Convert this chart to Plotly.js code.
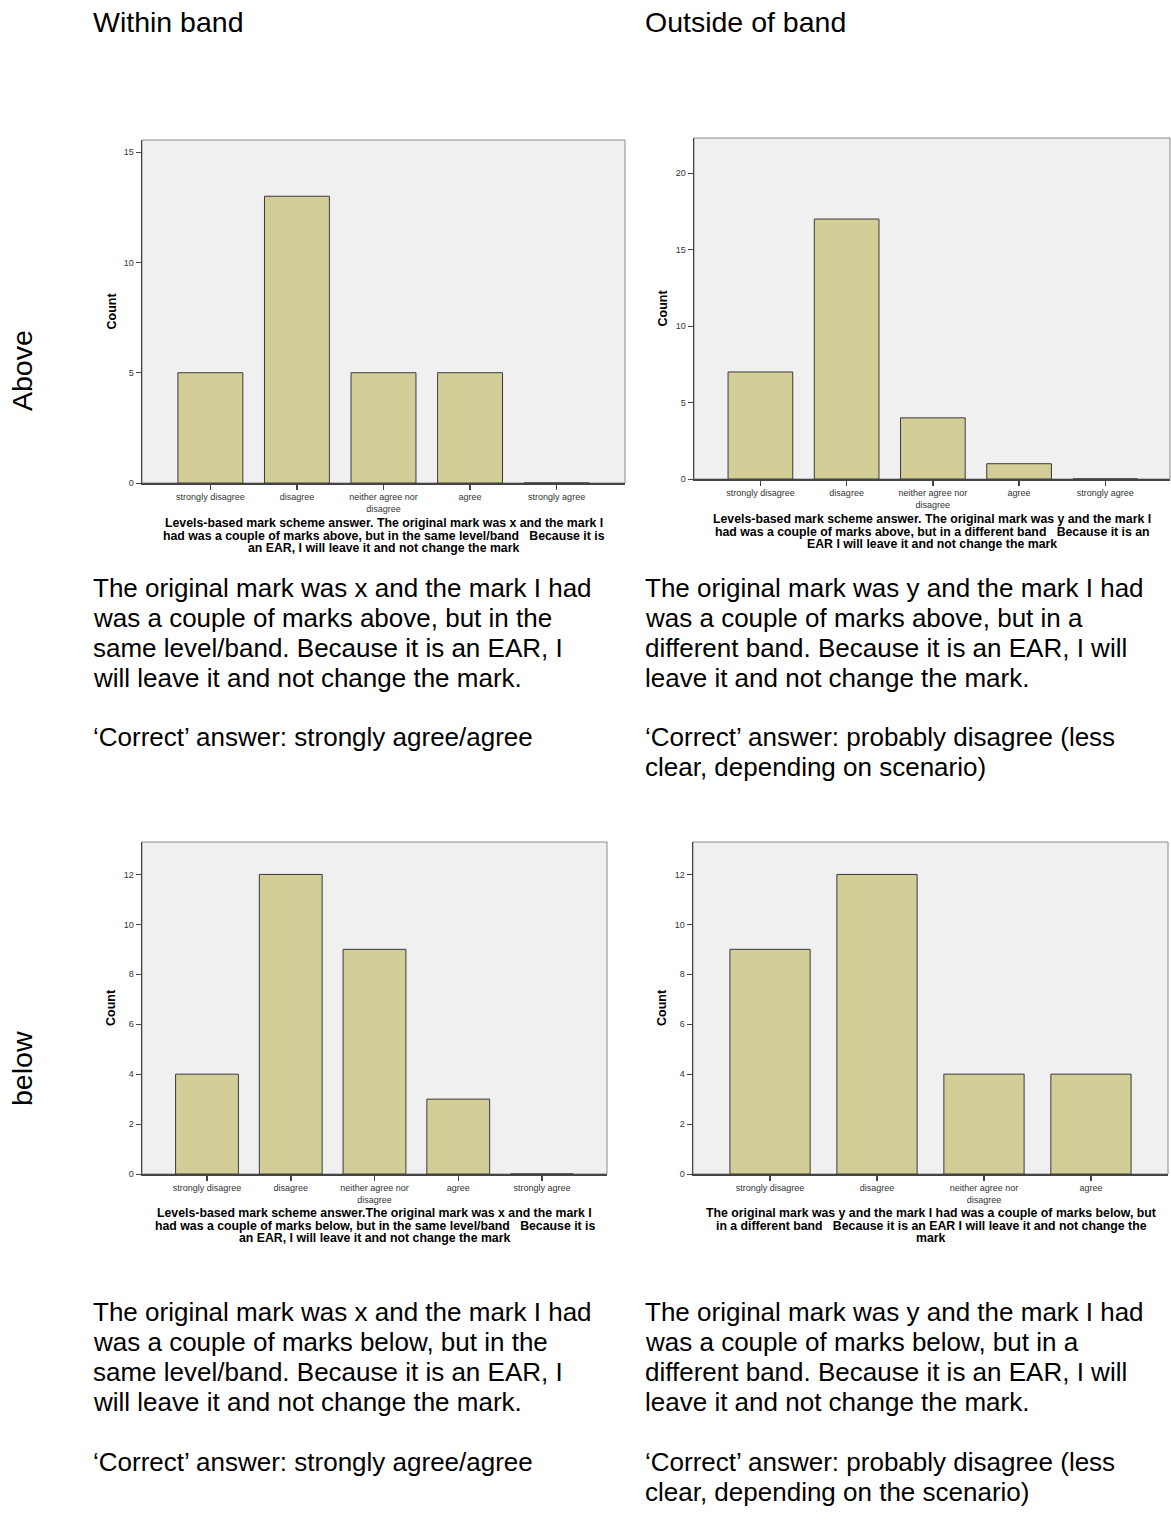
<!DOCTYPE html>
<html>
<head>
<meta charset="utf-8">
<script src="https://cdn.plot.ly/plotly-3.0.1.min.js"></script>
<style>
html,body{margin:0;padding:0;background:#fff;}
#chart{width:1171px;height:1531px;}
</style>
</head>
<body>
<div id="chart"></div>
<script>
// ---- data ----
const categories = ['strongly disagree', 'disagree', 'neither agree nor disagree', 'agree', 'strongly agree'];
const tickLabels = ['strongly disagree', 'disagree', 'neither agree nor<br>disagree', 'agree', 'strongly agree'];
const categoriesBelowOutside = ['strongly disagree', 'disagree', 'neither agree nor disagree', 'agree'];
const tickLabelsBelowOutside = ['strongly disagree', 'disagree', 'neither agree nor<br>disagree', 'agree'];

const aboveWithinCounts = [5, 13, 5, 5, 0];
const aboveOutsideCounts = [7, 17, 4, 1, 0];
const belowWithinCounts = [4, 12, 9, 3, 0];
const belowOutsideCounts = [9, 12, 4, 4];

const columnHeaders = ['Within band', 'Outside of band'];
const rowHeaders = ['Above', 'below'];

const axisTitleAboveWithin = ['Levels-based mark scheme answer. The original mark was x and the mark I', 'had was a couple of marks above, but in the same level/band   Because it is', 'an EAR, I will leave it and not change the mark'];
const axisTitleAboveOutside = ['Levels-based mark scheme answer. The original mark was y and the mark I', 'had was a couple of marks above, but in a different band   Because it is an', 'EAR I will leave it and not change the mark'];
const axisTitleBelowWithin = ['Levels-based mark scheme answer.The original mark was x and the mark I', 'had was a couple of marks below, but in the same level/band   Because it is', 'an EAR, I will leave it and not change the mark'];
const axisTitleBelowOutside = ['The original mark was y and the mark I had was a couple of marks below, but', 'in a different band   Because it is an EAR I will leave it and not change the', 'mark'];

const textAboveWithin = ['The original mark was x and the mark I had', 'was a couple of marks above, but in the', 'same level/band. Because it is an EAR, I', 'will leave it and not change the mark.'];
const correctAboveWithin = ['\u2018Correct\u2019 answer: strongly agree/agree'];
const textAboveOutside = ['The original mark was y and the mark I had', 'was a couple of marks above, but in a', 'different band. Because it is an EAR, I will', 'leave it and not change the mark.'];
const correctAboveOutside = ['\u2018Correct\u2019 answer: probably disagree (less', 'clear, depending on scenario)'];
const textBelowWithin = ['The original mark was x and the mark I had', 'was a couple of marks below, but in the', 'same level/band. Because it is an EAR, I', 'will leave it and not change the mark.'];
const correctBelowWithin = ['\u2018Correct\u2019 answer: strongly agree/agree'];
const textBelowOutside = ['The original mark was y and the mark I had', 'was a couple of marks below, but in a', 'different band. Because it is an EAR, I will', 'leave it and not change the mark.'];
const correctBelowOutside = ['\u2018Correct\u2019 answer: probably disagree (less', 'clear, depending on the scenario)'];

// ---- layout helpers ----
const W = 1171, H = 1531;
const px = v => v / W;
const py = v => 1 - v / H;
const FONT = 'Liberation Sans, Arial, Helvetica, sans-serif';
const BAR_FILL = '#d3ce97';
const BAR_LINE = '#3a3a3a';

function barTrace(cats, vals, xa, ya) {
  return {
    type: 'bar', x: cats, y: vals, xaxis: xa, yaxis: ya,
    width: 0.75,
    marker: {color: BAR_FILL, line: {color: BAR_LINE, width: 1}},
    hoverinfo: 'x+y', showlegend: false
  };
}

const data = [
  barTrace(categories, aboveWithinCounts, 'x', 'y'),
  barTrace(categories, aboveOutsideCounts, 'x2', 'y2'),
  barTrace(categories, belowWithinCounts, 'x3', 'y3'),
  barTrace(categoriesBelowOutside, belowOutsideCounts, 'x4', 'y4')
];

function xAxis(domain, anchor, cats, labels, range) {
  return {
    domain: domain, anchor: anchor, type: 'category',
    categoryorder: 'array', categoryarray: cats,
    tickvals: cats, ticktext: labels,
    range: range, fixedrange: true,
    showline: true, linecolor: '#444', linewidth: 1.5,
    ticks: 'outside', ticklen: 5, tickcolor: '#444', tickwidth: 1.5,
    tickfont: {family: FONT, size: 9, color: '#333'},
    showgrid: false, zeroline: false
  };
}
function yAxis(domain, anchor, range, dtick) {
  return {
    domain: domain, anchor: anchor, range: range, dtick: dtick, fixedrange: true,
    showline: true, linecolor: '#444', linewidth: 1.5,
    ticks: 'outside', ticklen: 5, tickcolor: '#444', tickwidth: 1,
    tickfont: {family: FONT, size: 9, color: '#333'},
    showgrid: false, zeroline: false
  };
}

// plot boxes in pixels: [left, right, top, bottom]
const boxTL = [142, 625, 140, 483];
const boxTR = [694, 1170, 138, 479];
const boxBL = [142, 607, 842, 1174];
const boxBR = [693, 1168, 842, 1174];
const xd = b => [px(b[0]), px(b[1])];
const yd = b => [py(b[3]), py(b[2])];

const layout = {
  width: W, height: H,
  margin: {l: 0, r: 0, t: 0, b: 0, pad: 0},
  paper_bgcolor: '#ffffff',
  plot_bgcolor: '#f0f0f0',
  showlegend: false,
  bargap: 0.25,
  xaxis: xAxis(xd(boxTL), 'y', categories, tickLabels, [-0.79, 4.79]),
  yaxis: yAxis(yd(boxTL), 'x', [0, 15.55], 5),
  xaxis2: xAxis(xd(boxTR), 'y2', categories, tickLabels, [-0.77, 4.75]),
  yaxis2: yAxis(yd(boxTR), 'x2', [0, 22.3], 5),
  xaxis3: xAxis(xd(boxBL), 'y3', categories, tickLabels, [-0.776, 4.776]),
  yaxis3: yAxis(yd(boxBL), 'x3', [0, 13.3], 2),
  xaxis4: xAxis(xd(boxBR), 'y4', categoriesBelowOutside, tickLabelsBelowOutside, [-0.72, 3.72]),
  yaxis4: yAxis(yd(boxBR), 'x4', [0, 13.3], 2),
  shapes: [],
  annotations: []
};

// plot-box borders (top/right lighter)
[['x', 'y'], ['x2', 'y2'], ['x3', 'y3'], ['x4', 'y4']].forEach(([xa, ya]) => {
  layout.shapes.push({
    type: 'rect', xref: xa + ' domain', yref: ya + ' domain',
    x0: 0, x1: 1, y0: 0, y1: 1,
    line: {color: '#8c8c8c', width: 1}, layer: 'below'
  });
});

function addText(text, x, y, size, opts) {
  layout.annotations.push(Object.assign({
    text: text, x: px(x), y: py(y), xref: 'paper', yref: 'paper',
    xanchor: 'left', yanchor: 'middle', showarrow: false,
    font: {family: FONT, size: size, color: '#000'}
  }, opts || {}));
}

// column + row headers
addText(columnHeaders[0], 91, 22, 28.5);
addText(columnHeaders[1], 643, 22, 28.5);
addText(rowHeaders[0], 22, 370, 28.5, {textangle: -90, xanchor: 'center'});
addText(rowHeaders[1], 22, 1068, 28.5, {textangle: -90, xanchor: 'center'});

// "Count" y titles
function countTitle(x, box) {
  addText('<b>Count</b>', x, (box[2] + box[3]) / 2, 12.5, {textangle: -90, xanchor: 'center'});
}
countTitle(111, boxTL);
countTitle(662, boxTR);
countTitle(111, boxBL);
countTitle(662, boxBR);

// x-axis titles (bold, three lines)
function axisTitle(lines, cx, y0) {
  lines.forEach((t, i) => {
    addText('<b>' + t + '</b>', cx, y0 + i * 12.6, 12.3, {xanchor: 'center'});
  });
}
axisTitle(axisTitleAboveWithin, 383.5, 523);
axisTitle(axisTitleAboveOutside, 932, 519);
axisTitle(axisTitleBelowWithin, 374.5, 1213);
axisTitle(axisTitleBelowOutside, 931, 1213);

// paragraphs
function para(lines, x, y0) {
  lines.forEach((t, i) => addText(t, x, y0 + i * 30, 26));
}
para(textAboveWithin, 91, 588);
para(correctAboveWithin, 91, 737);
para(textAboveOutside, 643, 588);
para(correctAboveOutside, 643, 737);
para(textBelowWithin, 91, 1312);
para(correctBelowWithin, 91, 1462);
para(textBelowOutside, 643, 1312);
para(correctBelowOutside, 643, 1462);

Plotly.newPlot('chart', data, layout, {displayModeBar: false, staticPlot: true});
</script>
</body>
</html>
